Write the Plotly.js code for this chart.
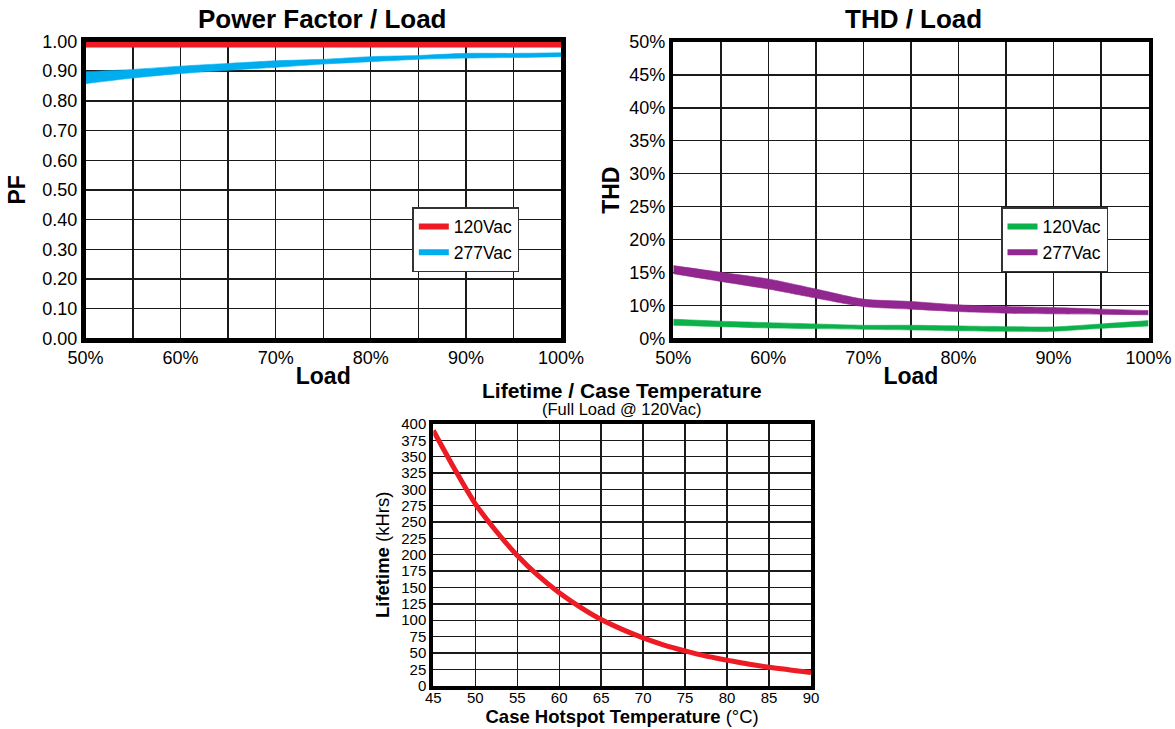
<!DOCTYPE html>
<html>
<head>
<meta charset="utf-8">
<script src="https://cdn.plot.ly/plotly-3.0.1.min.js"></script>
<style>
html,body{margin:0;padding:0;background:#fff;}
#chart{width:1175px;height:729px;}
</style>
</head>
<body>
<div id="chart"></div>
<script>
// ---- Data ----
const loadPct = [50, 55, 60, 65, 70, 75, 80, 85, 90, 95, 100];
const loadTickVals = [50, 60, 70, 80, 90, 100];
const loadTickText = ['50%', '60%', '70%', '80%', '90%', '100%'];

// Power factor bands (upper / lower edge of each drawn band)
const pf120Upper = [1.000, 1.000, 1.000, 1.000, 1.000, 1.000, 1.000, 1.000, 1.000, 1.000, 1.000];
const pf120Lower = [0.981, 0.981, 0.981, 0.981, 0.981, 0.981, 0.981, 0.981, 0.981, 0.981, 0.981];
const pf277Upper = [0.898, 0.906, 0.917, 0.926, 0.935, 0.940, 0.949, 0.953, 0.960, 0.960, 0.962];
const pf277Lower = [0.858, 0.877, 0.892, 0.903, 0.913, 0.924, 0.932, 0.940, 0.944, 0.946, 0.949];

// THD bands (%), on the chart's own axis (bottom gridline labelled 0%)
const thd120Upper = [7.90, 7.60, 7.38, 7.18, 6.98, 6.98, 6.88, 6.77, 6.73, 7.18, 7.69];
const thd120Lower = [6.98, 6.77, 6.57, 6.47, 6.37, 6.27, 6.16, 6.07, 6.07, 6.52, 6.88];
const thd277Upper = [16.04, 15.02, 14.01, 12.48, 10.95, 10.59, 10.08, 9.82, 9.67, 9.43, 9.21];
const thd277Lower = [14.82, 13.64, 12.48, 11.11, 9.82, 9.43, 9.06, 8.82, 8.71, 8.66, 8.56];
const thdTickVals = [5, 10, 15, 20, 25, 30, 35, 40, 45, 50];
const thdTickText = ['0%', '10%', '15%', '20%', '25%', '30%', '35%', '40%', '45%', '50%'];

// Lifetime vs case temperature
const caseTempC = [45, 47.5, 50, 52.5, 55, 57.5, 60, 62.5, 65, 67.5, 70, 72.5, 75, 77.5, 80, 82.5, 85, 87.5, 90];
const lifetimeKHrs = [390, 332, 278, 236, 199, 168, 142, 120, 101, 86, 73, 62, 53, 45, 39, 33, 28, 24, 20];

const seriesNames = ['120Vac', '277Vac'];

// ---- Styling ----
const FONT = 'Liberation Sans, Arial, Helvetica, sans-serif';
const RED = '#ED1C24', BLUE = '#00AEEF', GREEN = '#0DB14B', PURPLE = '#92278F';
const GRID = '#1a1a1a';

function band(x, lo, hi, color, xa, ya, shape) {
  return [
    {x: x, y: lo, xaxis: xa, yaxis: ya, mode: 'lines', line: {color: color, width: 0.6, shape: shape, smoothing: 0.7},
     showlegend: false, hoverinfo: 'skip'},
    {x: x, y: hi, xaxis: xa, yaxis: ya, mode: 'lines', line: {color: color, width: 0.6, shape: shape, smoothing: 0.7},
     fill: 'tonexty', fillcolor: color, showlegend: false, hoverinfo: 'skip'}
  ];
}
function legendEntry(name, color, xa, ya, leg) {
  return {x: [null], y: [null], xaxis: xa, yaxis: ya, name: name, mode: 'lines',
          line: {color: color, width: 6}, legend: leg, showlegend: true};
}

const traces = [].concat(
  band(loadPct, pf120Lower, pf120Upper, RED, 'x', 'y', 'linear'),
  band(loadPct, pf277Lower, pf277Upper, BLUE, 'x', 'y', 'spline'),
  band(loadPct, thd120Lower, thd120Upper, GREEN, 'x2', 'y2', 'spline'),
  band(loadPct, thd277Lower, thd277Upper, PURPLE, 'x2', 'y2', 'spline'),
  [
    legendEntry(seriesNames[0], RED, 'x', 'y', 'legend'),
    legendEntry(seriesNames[1], BLUE, 'x', 'y', 'legend'),
    legendEntry(seriesNames[0], GREEN, 'x2', 'y2', 'legend2'),
    legendEntry(seriesNames[1], PURPLE, 'x2', 'y2', 'legend2'),
    {x: caseTempC, y: lifetimeKHrs, xaxis: 'x3', yaxis: 'y3', mode: 'lines',
     line: {color: RED, width: 5, shape: 'spline', smoothing: 0.8}, showlegend: false}
  ]
);

const W = 1175, H = 729;
const px = v => v / W;
const py = v => 1 - v / H;

function baseAxis(extra) {
  return Object.assign({
    showline: true, mirror: true, linecolor: '#000', linewidth: 4.5,
    showgrid: true, gridcolor: GRID, gridwidth: 1.4, zeroline: false,
    ticks: '', automargin: false, fixedrange: true,
    tickfont: {family: FONT, size: 18, color: '#000'}
  }, extra);
}

const legendStyle = {
  xanchor: 'left', yanchor: 'top', traceorder: 'normal',
  bgcolor: '#fff', bordercolor: '#333', borderwidth: 1.5, tracegroupgap: 0,
  itemwidth: 30, font: {family: FONT, size: 17.5, color: '#000'}
};

const layout = {
  width: W, height: H,
  margin: {l: 0, r: 0, t: 0, b: 0},
  paper_bgcolor: '#fff', plot_bgcolor: '#fff',
  font: {family: FONT, color: '#000'},
  showlegend: true,
  // Power factor
  xaxis: baseAxis({domain: [px(85.5), px(561)], anchor: 'y', range: [50, 100],
    tickvals: loadTickVals, ticktext: loadTickText,
    minor: {dtick: 5, tick0: 50, showgrid: true, gridcolor: GRID, gridwidth: 1.4},
    title: {text: '<b>Load</b>', font: {size: 23, family: FONT}, standoff: 2}}),
  yaxis: baseAxis({domain: [py(338.3), py(41.5)], anchor: 'x', range: [0, 1],
    dtick: 0.1, tickformat: '.2f',
    title: {text: '<b>PF</b>', font: {size: 23, family: FONT}, standoff: 12}}),
  // THD
  xaxis2: baseAxis({domain: [px(673.3), px(1148.5)], anchor: 'y2', range: [50, 100],
    tickvals: loadTickVals, ticktext: loadTickText,
    minor: {dtick: 5, tick0: 50, showgrid: true, gridcolor: GRID, gridwidth: 1.4},
    title: {text: '<b>Load</b>', font: {size: 23, family: FONT}, standoff: 2}}),
  yaxis2: baseAxis({domain: [py(338.3), py(42)], anchor: 'x2', range: [5, 50],
    tickvals: thdTickVals, ticktext: thdTickText,
    title: {text: '<b>THD</b>', font: {size: 23, family: FONT}, standoff: 4}}),
  // Lifetime
  xaxis3: baseAxis({domain: [px(433.3), px(811)], anchor: 'y3', range: [45, 90], dtick: 5,
    linewidth: 4, tickfont: {family: FONT, size: 15, color: '#000'}, ticklabelstandoff: -5,
    title: {text: '<b>Case Hotspot Temperature</b> (°C)', font: {size: 18.5, family: FONT}, standoff: 0}}),
  yaxis3: baseAxis({domain: [py(685.6), py(424)], anchor: 'x3', range: [0, 400], dtick: 25,
    linewidth: 4, tickfont: {family: FONT, size: 15, color: '#000'},
    title: {text: '<b>Lifetime</b> (kHrs)', font: {size: 18.5, family: FONT}, standoff: 8}}),
  legend: Object.assign({x: px(412.3), y: py(207)}, legendStyle),
  legend2: Object.assign({x: px(1001), y: py(207)}, legendStyle),
  annotations: [
    {text: '<b>Power Factor / Load</b>', xref: 'paper', yref: 'paper', x: px(323), y: py(19),
     xanchor: 'center', yanchor: 'middle', showarrow: false, font: {family: FONT, size: 26, color: '#000'}},
    {text: '<b>THD / Load</b>', xref: 'paper', yref: 'paper', x: px(913), y: py(19),
     xanchor: 'center', yanchor: 'middle', showarrow: false, font: {family: FONT, size: 26, color: '#000'}},
    {text: '<b>Lifetime / Case Temperature</b>', xref: 'paper', yref: 'paper', x: px(622), y: py(390),
     xanchor: 'center', yanchor: 'middle', showarrow: false, font: {family: FONT, size: 21, color: '#000'}},
    {text: '(Full Load @ 120Vac)', xref: 'paper', yref: 'paper', x: px(622), y: py(408.5),
     xanchor: 'center', yanchor: 'middle', showarrow: false, font: {family: FONT, size: 16.5, color: '#000'}}
  ]
};

Plotly.newPlot('chart', traces, layout, {staticPlot: true, displayModeBar: false});
</script>
</body>
</html>
